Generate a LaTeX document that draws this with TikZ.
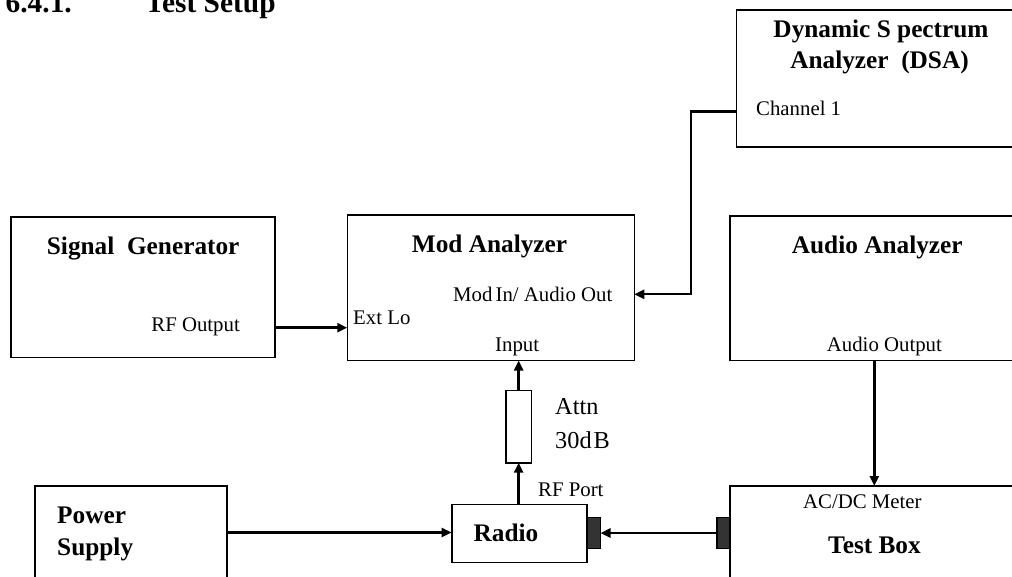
\documentclass[tikz,border=0pt]{standalone}
\usepackage{fontspec}
\setmainfont{Liberation Serif}
\usetikzlibrary{arrows.meta,calc}
\begin{document}
\begin{tikzpicture}[x=1pt,y=-1pt,
  box/.style={draw,line width=1.6pt,inner sep=0pt,outer sep=0pt,anchor=north west},
  lbl/.style={inner sep=0pt,anchor=base west,font=\fontsize{20.8}{24}\selectfont},
  albl/.style={inner sep=0pt,anchor=base west,font=\fontsize{24.3}{28}\selectfont},
  blbl/.style={inner sep=0pt,anchor=base west,font=\fontsize{25.3}{30}\selectfont\bfseries},
  tlbl/.style={inner sep=0pt,font=\fontsize{29.4}{34}\selectfont\bfseries},
  arr/.style={line width=2.4pt,-{Triangle[length=10pt,width=9pt]}},
  conn/.style={draw,line width=1.2pt,fill=black!80,inner sep=0pt,outer sep=0pt,minimum width=13pt,minimum height=30.6pt}]
\useasboundingbox (0,0) rectangle (1012,577);

% title
\node[tlbl,anchor=base east] (tnum) at (72,12.7) {6.4.1.};
\node[tlbl,anchor=base west] (ttxt) at (145,12.7) {Test Setup};

% boxes
\node[box,minimum width=264.3pt,minimum height=140pt] (sg) at (10.7,217.3) {};
\node[box,minimum width=287pt,minimum height=145.5pt] (mod) at (347.3,215) {};
\node[box,minimum width=320pt,minimum height=137pt] (dsa) at (736.5,10) {};
\node[box,minimum width=320pt,minimum height=144.5pt] (aud) at (730,216) {};
\node[box,minimum width=320pt,minimum height=150pt] (test) at (730,486) {};
\node[box,minimum width=191.7pt,minimum height=120pt] (pwr) at (35,486) {};
\node[box,minimum width=135.3pt,minimum height=58pt] (radio) at (451.7,504.3) {};
\node[box,minimum width=25.7pt,minimum height=72.3pt] (attn) at (505.8,390.4) {};

% connectors
\node[conn,anchor=west] (rconn) at (587.5,533) {};
\node[conn,anchor=east] (tconn) at (730,533) {};

% labels
\node[blbl,anchor=base] (dsa1) at (881,37.3) {Dynamic S pectrum};
\node[blbl,anchor=base] (dsa2) at (879.5,68.3) {Analyzer\hspace{0.25em} (DSA)};
\node[lbl] (ch1) at (756,116) {Channel 1};
\node[blbl] (sgt) at (46.7,255) {Signal~~Generator};
\node[lbl,anchor=base east] (rfo) at (240,331.7) {RF Output};
\node[blbl] (modt) at (411.7,253) {Mod Analyzer};
\node[lbl] (modin) at (453,301.7) {Mod\hspace{-0.1em} In/ Audio Out};
\node[lbl] (extlo) at (353,325) {Ext Lo};
\node[lbl] (inp) at (495,352) {Input};
\node[blbl] (audt) at (791.7,253.3) {Audio Analyzer};
\node[lbl] (audo) at (826.7,351.7) {Audio Output};
\node[albl] (attn1) at (555,414) {Attn};
\node[albl] (attn2) at (555,448.3) {30d\hspace{0.08em}B};
\node[lbl] (rfp) at (538,496) {RF Port};
\node[blbl] (radt) at (473.4,541.7) {Radio};
\node[lbl] (acdc) at (803,508.3) {AC/DC Meter};
\node[blbl] (testt) at (828,553.3) {Test Box};
\node[blbl] (pw1) at (57,523.3) {Power};
\node[blbl] (pw2) at (57,555.5) {Supply};

% connections
\draw[arr] (sg.east |- 0,327.7) -- (mod.west |- 0,327.7);
\coordinate (bend) at (691,111.7);
\draw[arr] (dsa.west |- bend) -- (bend) -- (bend |- 0,294.3) -- (mod.east |- 0,294.3);
\draw[arr] (aud.south -| 874.3,0) -- (test.north -| 874.3,0);
\draw[arr] (attn.south |- radio.north) -- (attn.south);
\draw[arr] (attn.north) -- (attn.north |- mod.south);
\draw[arr] (pwr.east |- 0,532.5) -- (radio.west |- 0,532.5);
\draw[arr] (tconn.west) -- (rconn.east);
\end{tikzpicture}
\end{document}
